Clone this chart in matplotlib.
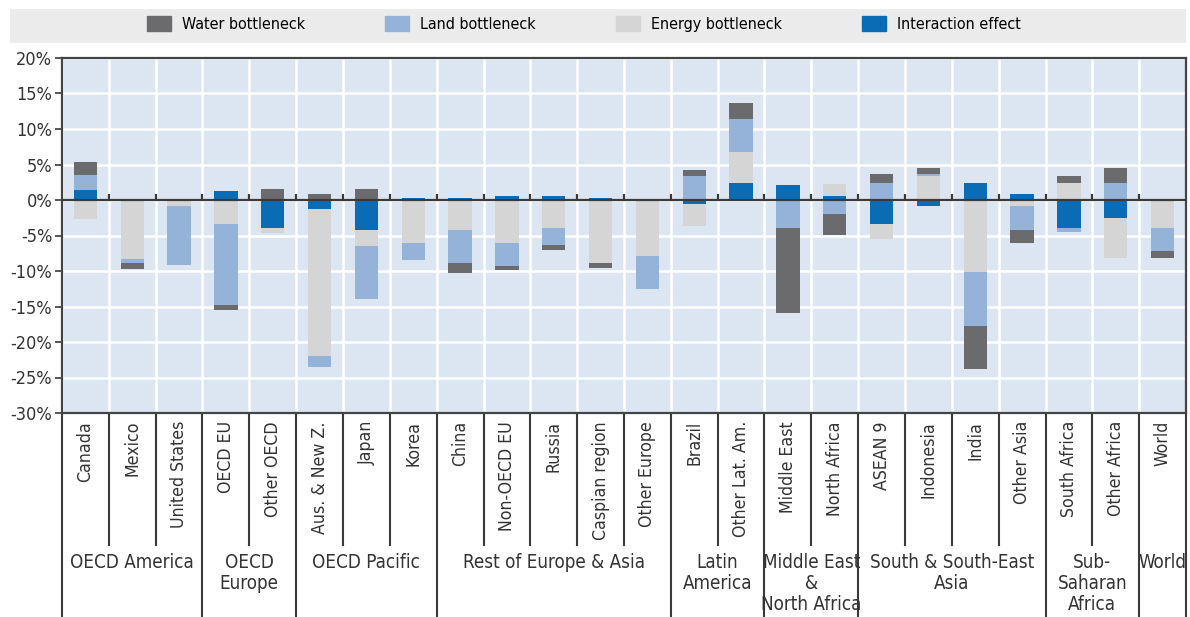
import matplotlib
matplotlib.use('Agg')
import matplotlib.pyplot as plt
import matplotlib.transforms as mtransforms
from matplotlib.patches import Patch, Rectangle
import numpy as np

plt.rcParams['font.family'] = ['DejaVu Sans']
plt.rcParams['font.stretch'] = 'condensed'

# Regions (bottom to top of the x axis labelling)
countries = ['Canada', 'Mexico', 'United States', 'OECD EU', 'Other OECD',
             'Aus. & New Z.', 'Japan', 'Korea', 'China', 'Non-OECD EU',
             'Russia', 'Caspian region', 'Other Europe', 'Brazil', 'Other Lat. Am.',
             'Middle East', 'North Africa', 'ASEAN 9', 'Indonesia', 'India',
             'Other Asia', 'South Africa', 'Other Africa', 'World']
groups = ['OECD America', 'OECD\nEurope', 'OECD Pacific', 'Rest of Europe & Asia',
          'Latin\nAmerica', 'Middle East\n&\nNorth Africa', 'South & South-East\nAsia',
          'Sub-\nSaharan\nAfrica', 'World']
group_sizes = [3, 2, 3, 5, 2, 2, 4, 2, 1]

# values in %
interaction = [1.4, -0.1, 0.0, 1.3, -3.9, -1.3, -4.2, 0.3, 0.3, 0.6, 0.6, 0.3,
               0.1, -0.6, 2.4, 2.1, 0.5, -3.4, -0.9, 2.4, 0.8, -3.9, -2.6, 0.1]
energy = [-2.7, -8.2, -0.8, -3.4, -0.8, -20.7, -2.3, -6.0, -4.2, -6.0, -3.9, -8.9,
          -7.9, -3.1, 4.3, 0.0, 1.8, -2.1, 3.4, -10.2, -0.9, 2.4, -5.6, -3.9]
land = [2.1, -0.6, -8.4, -11.4, 0.0, -1.5, -7.5, -2.5, -4.7, -3.3, -2.5, 0.0,
        -4.7, 3.4, 4.7, -3.9, -2.0, 2.4, 0.3, -7.5, -3.3, -0.6, 2.4, -3.3]
water = [1.8, -0.8, 0.0, -0.7, 1.6, 0.8, 1.6, 0.0, -1.4, -0.5, -0.7, -0.7,
         0.0, 0.8, 2.3, -12.0, -2.9, 1.3, 0.8, -6.1, -1.8, 1.0, 2.1, -0.9]

yticks = list(range(-30, 25, 5))

c_water = '#6b6b6d'
c_land = '#95b3d9'
c_energy = '#d5d5d5'
c_inter = '#0b6cb6'
bg = '#dce6f2'
dark = '#3a3a3a'
txt = '#333333'

fig = plt.figure(figsize=(11.9, 6.17), dpi=100)
W, H = 1190, 617
ax = fig.add_axes([62 / W, 1 - 413 / H, (1186 - 62) / W, (413 - 58) / H])
ax.set_facecolor(bg)

n = len(countries)
x = np.arange(n)
ax.set_xlim(-0.5, n - 0.5)
ax.set_ylim(-30, 20)

# grid
for b in np.arange(n + 1) - 0.5:
    ax.axvline(b, color='white', lw=1.8, zorder=1)
for t in yticks:
    ax.axhline(t, color='white', lw=1.8, zorder=1)

# stacked bars: positives up from 0, negatives down from 0
pos = np.zeros(n)
neg = np.zeros(n)
series = [(interaction, c_inter), (energy, c_energy), (land, c_land), (water, c_water)]
for vals, col in series:
    v = np.array(vals, dtype=float)
    bottom = np.where(v >= 0, pos, neg)
    ax.bar(x, v, bottom=bottom, width=0.5, color=col, zorder=3, linewidth=0)
    pos = pos + np.where(v >= 0, v, 0)
    neg = neg + np.where(v < 0, v, 0)

# zero line with small ticks
ax.axhline(0, color=dark, lw=1.6, zorder=4)
ax.vlines(np.arange(1, n) - 0.5, 0, 0.9, color=dark, lw=1.6, zorder=4)

ax.set_yticks(yticks)
ax.set_yticklabels([f'{t}%' for t in yticks], fontsize=13, color=txt)
ax.tick_params(axis='y', direction='out', length=5, width=1.2, color=dark, pad=2)
ax.set_xticks([])
for s in ax.spines.values():
    s.set_color('#444444')
    s.set_linewidth(1.6)

# labels below the axes
trans = mtransforms.blended_transform_factory(ax.transData, ax.transAxes)


def yax(p):
    return (413 - p) / 355


for i, name in enumerate(countries):
    ax.text(i, yax(421), name, rotation=90, ha='center', va='top', fontsize=12.7,
            color=txt, transform=trans, clip_on=False)

group_bounds = np.cumsum([0] + group_sizes)
for b in range(n + 1):
    edge = b - 0.5
    bottom = 617 if b in group_bounds else 545
    ax.plot([edge, edge], [yax(413), yax(bottom)], color=dark, lw=1.5,
            transform=trans, clip_on=False)

for g, start, size in zip(groups, group_bounds[:-1], group_sizes):
    cx = start + size / 2 - 0.5
    ax.text(cx, yax(553), g, ha='center', va='top', fontsize=13.5, color=txt,
            linespacing=1.15, transform=trans, clip_on=False)

# legend band
fig.patches.append(Rectangle((10 / W, 1 - 43 / H), 1176 / W, 34 / H,
                             transform=fig.transFigure, facecolor='#ebebeb',
                             edgecolor='none', zorder=0))
handles = [Patch(color=c_water, label='Water bottleneck'),
           Patch(color=c_land, label='Land bottleneck'),
           Patch(color=c_energy, label='Energy bottleneck'),
           Patch(color=c_inter, label='Interaction effect')]
fig.legend(handles=handles, loc='center', bbox_to_anchor=(584 / W, 1 - 24 / H),
           ncol=4, frameon=False, fontsize=11.5, handlelength=1.5, handleheight=1.1,
           columnspacing=5.0, handletextpad=0.7)

fig.savefig('out.png', dpi=100)
